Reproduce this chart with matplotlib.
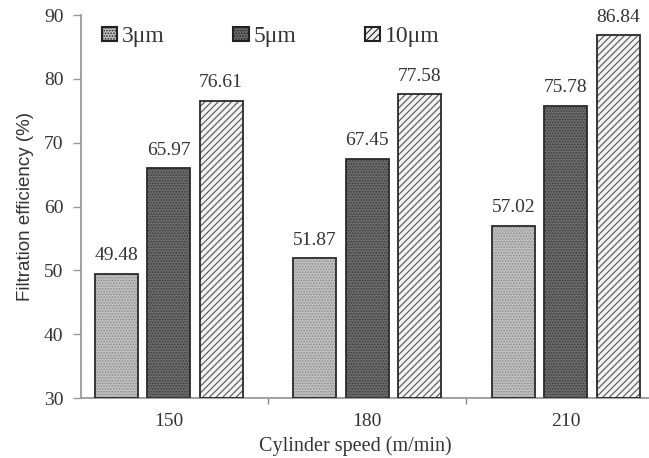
import matplotlib
matplotlib.use("Agg")
import matplotlib.pyplot as plt
import numpy as np

plt.rcParams['hatch.linewidth'] = 0.8

categories = ["150", "180", "210"]
series_names = ["3μm", "5μm", "10μm"]
vals_3 = [49.48, 51.87, 57.02]
vals_5 = [65.97, 67.45, 75.78]
vals_10 = [76.61, 77.58, 86.84]
yticks = [30, 40, 50, 60, 70, 80, 90]

series = [vals_3, vals_5, vals_10]
faces = ["#c0c0c0", "#6c6c6c", "#f2f2f2"]
hatches = ["......", "......", "/////"]
hatch_colors = ["#8e8e8e", "#3c3c3c", "#555555"]

serif = "Liberation Serif"

fig = plt.figure(figsize=(6.49, 4.58), dpi=100)
ax = fig.add_axes([0.1243, 0.131, 0.8757, 0.836])

x = np.arange(len(categories))
step = 0.264
width = 0.217
handles = []
for i, (vals, fc, h, hc, name) in enumerate(zip(series, faces, hatches, hatch_colors, series_names)):
    pos = x + (i - 1) * step
    bars = ax.bar(pos, np.array(vals) - 30, width, bottom=30, facecolor=fc,
                  edgecolor=hc, hatch=h, linewidth=0, label=name, zorder=2)
    ax.bar(pos, np.array(vals) - 30, width, bottom=30, facecolor="none",
           edgecolor="#2a2a2a", linewidth=1.3, zorder=3)
    handles.append(bars)
    for p, v in zip(pos, vals):
        ax.text(p, v + 1.5, f"{v:.2f}", ha="center", va="bottom",
                fontsize=14, family=serif, color="#333333")

ax.set_ylim(30, 90)
ax.set_xlim(-0.444, 2.42)
ax.set_yticks(yticks)
ax.set_yticklabels([str(t) for t in yticks], family=serif, fontsize=14, color="#333333")
ax.set_xticks(x)
ax.set_xticklabels(categories, family=serif, fontsize=14, color="#333333")
ax.set_xticks([0.5, 1.5], minor=True)
ax.tick_params(axis="x", which="major", length=0, pad=11)
ax.tick_params(axis="x", which="minor", length=4.5, direction="out", color="#888888", width=1)
ax.tick_params(axis="y", length=5.8, direction="out", color="#999999", pad=6.5, width=1)

for s in ["top", "right"]:
    ax.spines[s].set_visible(False)
for s in ["left", "bottom"]:
    ax.spines[s].set_color("#9a9a9a")
    ax.spines[s].set_linewidth(1.3)

ax.set_xlabel("Cylinder speed (m/min)", family=serif, fontsize=14.5, color="#333333")
ax.xaxis.set_label_coords(0.484, -0.100)
ax.set_ylabel("Filtration efficiency (%)", family="Liberation Sans", fontsize=13.5,
              color="#333333", labelpad=7)

leg = ax.legend(handles=handles, labels=series_names, loc="center left", ncol=3,
                frameon=False, bbox_to_anchor=(0.0375, 0.943), prop={"family": serif, "size": 17},
                handlelength=0.65, handleheight=0.55, handletextpad=0.2, columnspacing=2.9,
                borderpad=0, borderaxespad=0)
for hd in leg.legend_handles:
    hd.set_edgecolor("#222222")
    hd.set_linewidth(1.5)
for t in leg.get_texts():
    t.set_color("#333333")

fig.savefig("out.png", dpi=100)
